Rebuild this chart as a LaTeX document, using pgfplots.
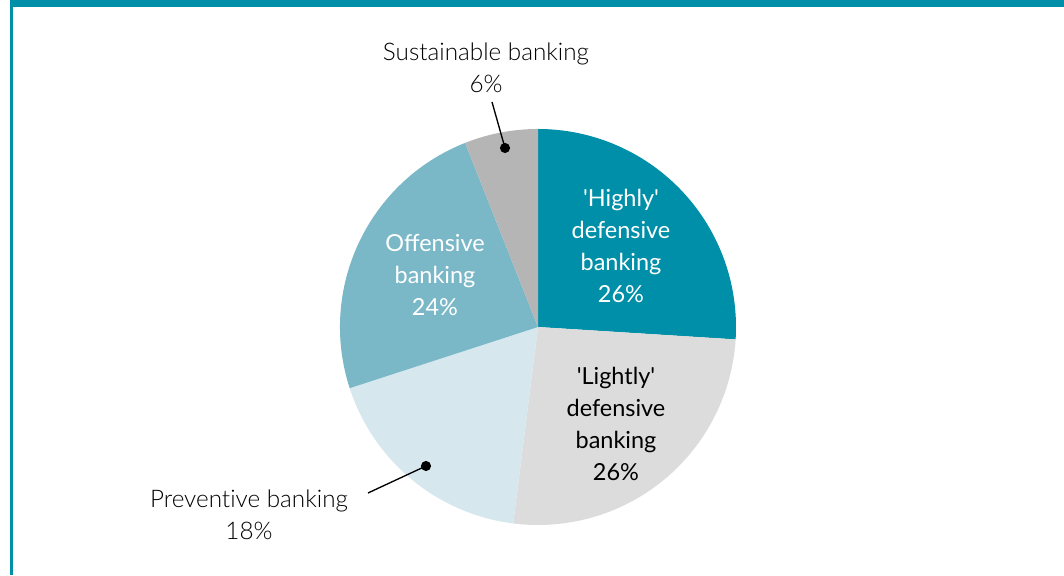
\documentclass[border=0pt]{standalone}
\usepackage{pgfplots}
\pgfplotsset{compat=1.18}
\usepackage{fontspec}
\setmainfont{Lato}
\newfontfamily\lightfont{Lato Light}[Ligatures={NoCommon}]

\definecolor{tealA}{HTML}{008FA8}
\definecolor{greyL}{HTML}{DCDCDC}
\definecolor{blueL}{HTML}{D6E7EE}
\definecolor{blueM}{HTML}{7AB8C8}
\definecolor{greyM}{HTML}{B5B5B5}

% slice: cumulative share before, share, colour (clockwise from 12 o'clock)
\newcommand\slice[3]{%
  \fill[#3] (axis cs:538,248) -- ++({90-3.6*#1}:148.5pt)
    arc[start angle={90-3.6*#1}, end angle={90-3.6*(#1+#2)}, radius=148.5pt] -- cycle;}

\begin{document}
\begin{tikzpicture}
\begin{axis}[
    x=0.75pt, y=0.75pt,
    xmin=0, xmax=1064, ymin=0, ymax=575,
    hide axis, clip=false,
]
\fill[white] (axis cs:0,0) rectangle (axis cs:1064,575);
% frame
\fill[tealA] (axis cs:10,568) rectangle (axis cs:1064,575);
\fill[tealA] (axis cs:10,0) rectangle (axis cs:12.5,575);

% shares (%)
\slice{0}{26}{tealA}
\slice{26}{26}{greyL}
\slice{52}{18}{blueL}
\slice{70}{24}{blueM}
\slice{94}{6}{greyM}

\tikzset{lab/.style={align=center, font=\fontsize{17.6}{24}\selectfont},
         outlab/.style={align=center, font=\lightfont\fontsize{18.2}{24}\selectfont}}
\node[lab, text=white] at (axis cs:621,329) {\textquotesingle Highly\textquotesingle\\defensive\\banking\\26\%};
\node[lab, text=black] at (axis cs:616,151) {\textquotesingle Lightly\textquotesingle\\defensive\\banking\\26\%};
\node[lab, text=white] at (axis cs:435,300) {Offensive\\banking\\24\%};
\node[outlab] at (axis cs:486,507) {Sustainable banking\\6\%};
\node[outlab] at (axis cs:249,60) {Preventive banking\\18\%};

% leader lines
\draw[line width=1pt] (axis cs:492,473) -- (axis cs:505,427);
\fill (axis cs:505,427) circle[radius=3.8pt];
\draw[line width=1pt] (axis cs:368,82) -- (axis cs:426,109);
\fill (axis cs:426,109) circle[radius=3.8pt];
\end{axis}
\end{tikzpicture}
\end{document}
